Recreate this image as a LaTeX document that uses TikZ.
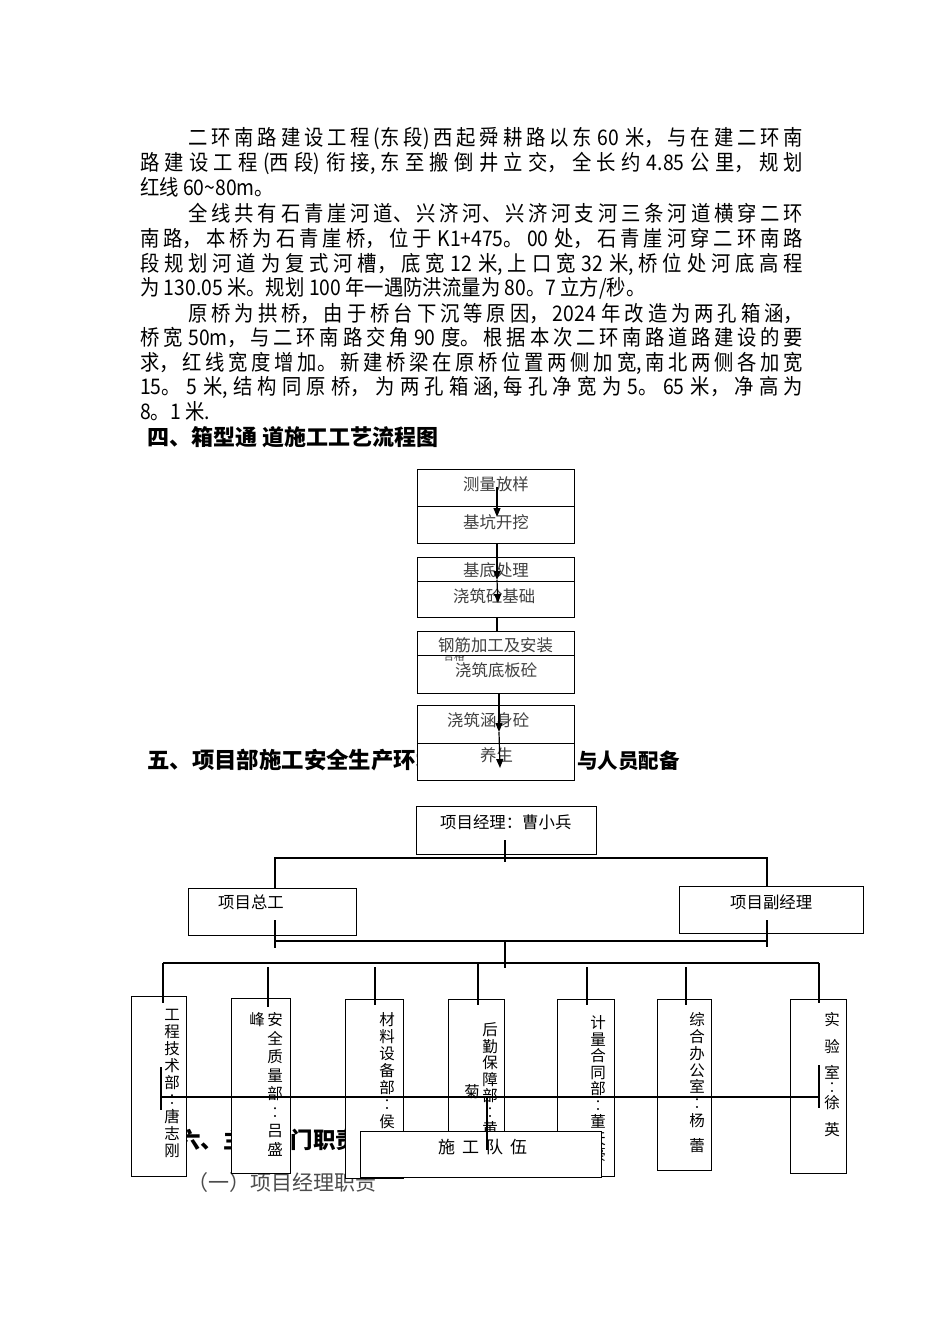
\documentclass[tikz,border=0pt]{standalone}
\usepackage{fontspec}
\setmainfont{Noto Sans CJK SC}
\newfontfamily\bodyf{Noto Sans CJK SC}[FakeStretch=0.9]
\usetikzlibrary{arrows.meta}
\newcommand{\jline}[2]{\parbox[b]{#1pt}{\XeTeXlinebreaklocale "zh"\XeTeXlinebreakskip=0pt plus 6pt\tolerance=10000\parfillskip=0pt\parindent=0pt\noindent #2}}
\tikzset{
  bt/.style={anchor=base west, inner sep=0, font=\bodyf\fontsize{21.5}{24}\selectfont},
  hd/.style={anchor=base west, inner sep=0, font=\bfseries\fontsize{22}{24}\selectfont},
  box/.style={draw, fill=white, line width=1.4pt, inner sep=0, anchor=north west},
  ft/.style={anchor=base west, inner sep=0, text=black!75, font=\fontsize{16.4}{18}\selectfont},
  ot/.style={anchor=base west, inner sep=0, font=\fontsize{16.4}{18}\selectfont},
  vt/.style={anchor=base, inner sep=0, font=\fontsize{15.5}{16}\selectfont},
  ln/.style={line width=1.2pt},
  arr/.style={line width=1.2pt, -{Triangle[length=9pt,width=7pt]}}
}
\begin{document}
\begin{tikzpicture}[x=1pt,y=-1pt]
\path[use as bounding box, fill=white] (0,0) rectangle (950,1344);
% body text
\node[bt] (p1) at (188,145.4) {\jline{615}{二环南路建设工程(东段)西起舜耕路以东 60 米，与在建二环南}};
\node[bt] (p2) at (140,170.4) {\jline{663}{路建设工程(西段) 衔接,东至搬倒井立交，全长约 4.85 公里，规划}};
\node[bt] (p3) at (140,195.4) {红线 60\textasciitilde80m。};
\node[bt] (p4) at (188,221.4) {\jline{615}{全线共有石青崖河道、兴济河、兴济河支河三条河道横穿二环}};
\node[bt] (p5) at (140,246.4) {\jline{663}{南路，本桥为石青崖桥，位于 K1+475。00 处，石青崖河穿二环南路}};
\node[bt] (p6) at (140,271.4) {\jline{663}{段规划河道为复式河槽，底宽 12 米,上口宽 32 米,桥位处河底高程}};
\node[bt] (p7) at (140,295.4) {为 130.05 米。规划 100 年一遇防洪流量为 80。7 立方/秒。};
\node[bt] (p8) at (188,321.4) {\jline{615}{原桥为拱桥，由于桥台下沉等原因，2024 年改造为两孔箱涵，}};
\node[bt] (p9) at (140,345.4) {\jline{663}{桥宽 50m，与二环南路交角 90 度。根据本次二环南路道路建设的要}};
\node[bt] (p10) at (140,370.4) {\jline{663}{求，红线宽度增加。新建桥梁在原桥位置两侧加宽,南北两侧各加宽}};
\node[bt] (p11) at (140,394.4) {\jline{663}{15。5 米,结构同原桥，为两孔箱涵,每孔净宽为 5。65 米，净高为}};
\node[bt] (p12) at (140,419.4) {8。1 米.};
\node[hd] (h4) at (147,445.4) {四、箱型通 道施工工艺流程图};
\node[hd, font=\bfseries\fontsize{22.4}{24}\selectfont] (h5a) at (147,768.5) {五、项目部施工安全生产环境};
\node[hd, font=\bfseries\fontsize{20.5}{24}\selectfont] (h5b) at (577,768.5) {与人员配备};
\node[hd, font=\bfseries\fontsize{22.5}{24}\selectfont] (h6) at (178,1148.5) {六、主要部门职责};
\node[anchor=base west, inner sep=0, text=black!70, font=\fontsize{21}{24}\selectfont] (h61) at (187,1190) {（一）项目经理职责};
% flow chart
\node[box, minimum width=157pt, minimum height=37pt] (fb1) at (417,469) {};
\node[box, minimum width=157pt, minimum height=37pt] (fb2) at (417,506) {};
\node[ft] (ft1) at (463,490.2) {测量放样};
\node[ft] (ft2) at (463,528.2) {基坑开挖};
\node[box, minimum width=157pt, minimum height=24pt] (fb3) at (417,557) {};
\node[box, minimum width=157pt, minimum height=36pt] (fb4) at (417,581) {};
\node[ft] (ft3) at (463,576.2) {基底处理};
\node[ft] (ft4) at (453,602.2) {浇筑砼基础};
\node[box, minimum width=157pt, minimum height=38pt] (fb6) at (417,655) {};
\node[anchor=center, inner sep=0, text=black!75, font=\fontsize{10.5}{12}\selectfont] (hg) at (454,656.5) {合格};
\node[box, minimum width=157pt, minimum height=24pt] (fb5) at (417,631) {};
\node[ft] (ft5) at (438,651.2) {钢筋加工及安装};
\node[ft] (ft6) at (455,676.2) {浇筑底板砼};
\node[box, minimum width=157pt, minimum height=38pt] (fb7) at (417,705) {};
\node[box, minimum width=157pt, minimum height=37pt] (fb8) at (417,743) {};
\node[ft] (ft7) at (447,726.2) {浇筑涵身砼};
\node[ft] (ft8) at (480,761.2) {养生};
% flow arrows
\coordinate (a1s) at (497,487); \coordinate (a1e) at (497,517);
\coordinate (a2s) at (497,543); \coordinate (a2m) at (497,580); \coordinate (a2e) at (498,603);
\coordinate (a3s) at (497,617); \coordinate (a3e) at (497,631);
\coordinate (a4s) at (499,693); \coordinate (a4m) at (499,732); \coordinate (a4e) at (500,768);
\draw[arr] (a1s) -- (a1e);
\draw[arr] (a2s) -- (a2m);
\draw[arr] (a2m) -- (a2e);
\draw[ln] (a3s) -- (a3e);
\draw[arr] (a4s) -- (a4m);
\draw[arr] (a4m) -- (a4e);
% org chart top
\node[box, minimum width=180pt, minimum height=48pt] (mgr) at (416,806) {};
\node[ot] (mgrt) at (440,828.2) {项目经理：曹小兵};
\node[box, minimum width=168pt, minimum height=47pt] (zg) at (188,888) {};
\node[ot] (zgt) at (218,908.2) {项目总工};
\node[box, minimum width=184pt, minimum height=47pt] (fj) at (679,886) {};
\node[ot] (fjt) at (730,908.2) {项目副经理};
\coordinate (m1) at (505,840); \coordinate (m2) at (505,862);
\coordinate (h1l) at (275,858); \coordinate (h1r) at (767,858);
\draw[ln] (m1) -- (m2);
\draw[ln] (h1l |- zg.north) -- (h1l) -- (h1r) -- (h1r |- fj.north);
\coordinate (z1) at (275,920); \coordinate (z2) at (275,948);
\coordinate (f1) at (767,920); \coordinate (f2) at (767,947);
\coordinate (h2l) at (275,941); \coordinate (h2r) at (767,941);
\coordinate (c1) at (505,941); \coordinate (c2) at (505,968);
\draw[ln] (z1) -- (z2);
\draw[ln] (f1) -- (f2);
\draw[ln] (h2l) -- (h2r);
\draw[ln] (c1) -- (c2);
% department boxes
\node[box, minimum width=55pt, minimum height=180pt] (b1) at (131,996) {};
\node[box, minimum width=59pt, minimum height=175pt] (b2) at (231,998) {};
\node[box, minimum width=58pt, minimum height=179pt] (b3) at (345,999) {};
\node[box, minimum width=56pt, minimum height=178pt] (b4) at (448,999) {};
\node[box, minimum width=57pt, minimum height=177pt] (b5) at (557,999) {};
\node[box, minimum width=54pt, minimum height=171pt] (b6) at (657,999) {};
\node[box, minimum width=56pt, minimum height=174pt] (b7) at (790,999) {};
% vertical texts
\foreach \c [count=\i] in {工,程,技,术,部,︰,唐,志,刚}
  \node[vt] (vA\i) at (172,{1015+16.9*(\i-1)+5.9}) {\c};
\foreach \c [count=\i] in {安,全,质,量,部,︰,吕,盛}
  \node[vt] (vB\i) at (275,{1020+18.5*(\i-1)+5.9}) {\c};
\node[vt] (vBx) at (257,1025.9) {峰};
\foreach \c [count=\i] in {材,料,设,备,部,︰,侯}
  \node[vt] (vC\i) at (387,{1020+16.9*(\i-1)+5.9}) {\c};
\foreach \c [count=\i] in {后,勤,保,障,部,︰,黄}
  \node[vt] (vD\i) at (490,{1030+16.5*(\i-1)+5.9}) {\c};
\node[vt] (vDx) at (472,1097.9) {菊};
\foreach \c [count=\i] in {计,量,合,同,部,︰,董,天,豪}
  \node[vt] (vE\i) at (598,{1023+16.5*(\i-1)+5.9}) {\c};
\foreach \c [count=\i] in {综,合,办,公,室,︰,杨}
  \node[vt] (vF\i) at (697,{1020+16.7*(\i-1)+5.9}) {\c};
\node[vt] (vFx) at (697,1151.9) {蕾};
\foreach \c/\yy [count=\i] in {实/1020,验/1047,室/1073,︰/1088,徐/1103,英/1130}
  \node[vt] (vG\i) at (832,{\yy+5.9}) {\c};
% drops
\coordinate (h3l) at (163,963); \coordinate (h3r) at (819,963);
\draw[ln] (h3l) -- (h3r);
\coordinate (d1a) at (163,963); \coordinate (d1b) at (163,1003);
\coordinate (d2a) at (268,967); \coordinate (d2b) at (268,1007);
\coordinate (d3a) at (375,967); \coordinate (d3b) at (375,1005);
\coordinate (d4a) at (478,963); \coordinate (d4b) at (478,1005);
\coordinate (d5a) at (587,967); \coordinate (d5b) at (587,1005);
\coordinate (d6a) at (686,967); \coordinate (d6b) at (686,1005);
\coordinate (d7a) at (819,963); \coordinate (d7b) at (819,1003);
\foreach \k in {1,...,7} \draw[ln] (d\k a) -- (d\k b);
% construction team
\node[box, minimum width=241pt, minimum height=46pt] (sg) at (360,1131) {};
\node[anchor=base west, inner sep=0, font=\fontsize{17}{20}\selectfont] (sgt) at (438,1153.5) {施\hspace{7pt}工\hspace{7pt}队\hspace{7pt}伍};
% cross line
\coordinate (L1t) at (161,1067); \coordinate (L1b) at (161,1110);
\coordinate (L7t) at (819,1065); \coordinate (L7b) at (819,1108);
\coordinate (Hl) at (161,1097); \coordinate (Hr) at (819,1097);
\coordinate (V4t) at (487,1097); \coordinate (V4b) at (487,1150);
\draw[ln] (L1t) -- (L1b);
\draw[ln] (L7t) -- (L7b);
\draw[ln] (Hl) -- (Hr);
\draw[ln] (V4t) -- (V4b);
\end{tikzpicture}
\end{document}
